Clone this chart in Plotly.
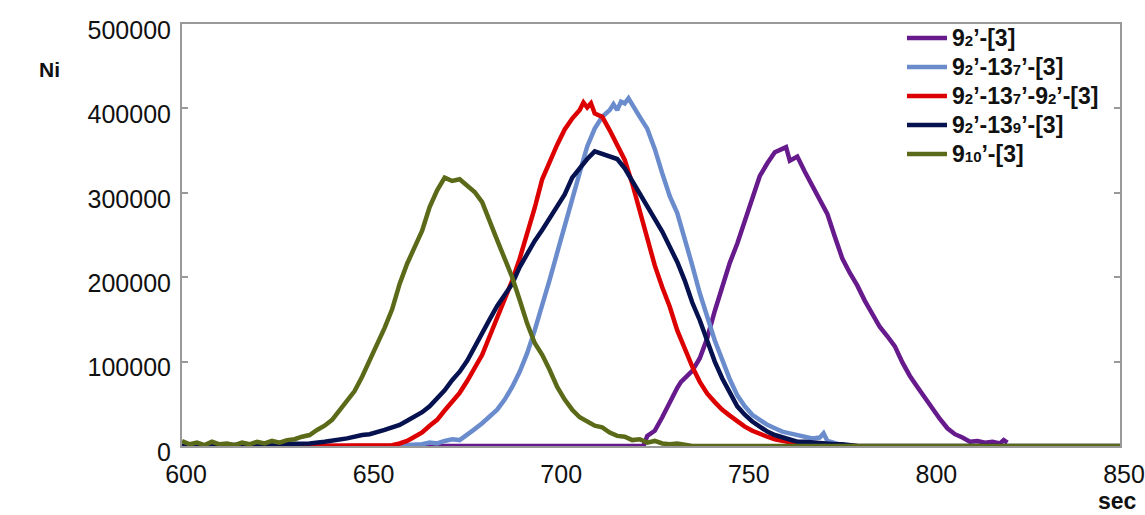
import plotly.graph_objects as go

# ---- data (sec, Ni) ----
t_purple = [600, 650, 700, 723, 724, 725, 726, 728, 730, 732, 733, 734, 736, 738, 740, 742, 744, 746, 748, 750,
            752, 754, 756, 758, 760, 761, 762, 764, 766, 768, 770, 772, 774, 776, 778, 780, 782, 784, 786, 788,
            790, 792, 794, 796, 798, 800, 802, 804, 806, 808, 810, 812, 814, 816, 818, 819, 820]
n_purple = [0, 0, 0, 0, 12000, 15000, 18000, 34000, 52000, 69000, 76000, 80000, 89000, 104000, 128000, 160000,
            190000, 217000, 240000, 268000, 294000, 320000, 335000, 348000, 352000, 354000, 338000, 343000, 325000,
            308000, 290000, 275000, 248000, 222000, 205000, 190000, 172000, 156000, 141000, 130000, 118000, 99000,
            83000, 70000, 57000, 43000, 32000, 21000, 14000, 10000, 5000, 6000, 4000, 5000, 3000, 7000, 4000]

t_lblue = [655, 660, 664, 666, 668, 670, 672, 674, 676, 678, 680, 682, 684, 686, 688, 690, 692, 694, 696, 698,
           700, 702, 704, 706, 708, 710, 712, 714, 715, 716, 717, 718, 719, 720, 722, 724, 726, 728, 730, 732,
           734, 736, 738, 740, 742, 744, 746, 748, 750, 752, 754, 756, 758, 760, 762, 764, 766, 768, 770, 771,
           772, 774, 776, 778]
n_lblue = [0, 1000, 2000, 4000, 3000, 6000, 8000, 7000, 13000, 20000, 27000, 35000, 43000, 55000, 70000, 88000,
           110000, 137000, 165000, 197000, 229000, 262000, 295000, 324000, 355000, 376000, 390000, 398000, 405000,
           398000, 408000, 406000, 412000, 404000, 390000, 376000, 352000, 323000, 296000, 276000, 246000, 214000,
           181000, 152000, 125000, 102000, 79000, 60000, 47000, 37000, 31000, 25000, 21000, 17000, 15000, 13000,
           11000, 9000, 10000, 15000, 6000, 3000, 1000, 0]

t_red = [630, 654, 656, 658, 660, 662, 664, 666, 668, 670, 672, 674, 676, 678, 680, 682, 684, 686, 688, 690,
         692, 694, 696, 698, 700, 702, 704, 706, 707, 708, 709, 710, 712, 714, 716, 718, 720, 722, 724, 726,
         728, 730, 732, 734, 736, 738, 740, 742, 744, 746, 748, 750, 752, 754, 756, 758, 760, 762, 764, 766,
         768, 780]
n_red = [0, 0, 1000, 3000, 6000, 11000, 16000, 24000, 31000, 42000, 52000, 63000, 77000, 92000, 108000, 130000,
         152000, 175000, 196000, 222000, 250000, 282000, 316000, 338000, 357000, 375000, 388000, 398000, 407000,
         401000, 406000, 394000, 390000, 374000, 356000, 339000, 311000, 277000, 247000, 214000, 188000, 165000,
         137000, 114000, 94000, 76000, 62000, 52000, 43000, 36000, 29000, 23000, 18000, 14000, 11000, 8000, 6000,
         4000, 2000, 1000, 0, 0]

t_navy = [600, 630, 634, 638, 640, 644, 648, 650, 654, 658, 660, 662, 664, 666, 668, 670, 672, 674, 676, 678,
          680, 682, 684, 686, 688, 690, 692, 694, 696, 698, 700, 702, 704, 706, 708, 710, 712, 714, 716, 718,
          720, 722, 724, 726, 728, 730, 732, 734, 736, 738, 740, 742, 744, 746, 748, 750, 752, 754, 756, 758,
          760, 762, 764, 766, 768, 770, 772, 774, 776, 778, 780, 850]
n_navy = [0, 2000, 3000, 5000, 6000, 9000, 13000, 14000, 19000, 25000, 30000, 35000, 40000, 47000, 56000, 66000,
          78000, 88000, 101000, 118000, 135000, 150000, 166000, 178000, 192000, 212000, 228000, 243000, 256000,
          270000, 284000, 298000, 318000, 330000, 340000, 349000, 346000, 342000, 340000, 329000, 314000, 300000,
          285000, 270000, 254000, 236000, 218000, 196000, 170000, 149000, 123000, 100000, 80000, 63000, 47000,
          37000, 29000, 23000, 17000, 13000, 10000, 7000, 5000, 5000, 4000, 4000, 3000, 2000, 2000, 1000, 0, 0]

t_olive = [600, 602, 604, 606, 608, 610, 612, 614, 616, 618, 620, 622, 624, 626, 628, 630, 632, 634, 636, 638,
           640, 642, 644, 646, 648, 650, 652, 654, 656, 658, 660, 662, 664, 666, 668, 670, 672, 674, 676, 678,
           680, 682, 684, 686, 688, 690, 692, 694, 696, 698, 700, 702, 704, 706, 708, 710, 712, 714, 716, 718,
           720, 722, 724, 726, 728, 730, 732, 734, 736, 850]
n_olive = [6000, 2000, 4000, 1000, 5000, 2000, 3000, 1000, 4000, 2000, 5000, 3000, 6000, 4000, 7000, 8000, 11000,
           13000, 19000, 24000, 31000, 42000, 52000, 65000, 82000, 101000, 121000, 140000, 162000, 192000, 216000,
           236000, 255000, 283000, 303000, 318000, 314000, 316000, 309000, 301000, 289000, 268000, 244000, 222000,
           200000, 173000, 145000, 122000, 108000, 90000, 70000, 55000, 43000, 34000, 29000, 24000, 22000, 16000,
           12000, 11000, 7000, 8000, 4000, 6000, 3000, 2000, 3000, 1000, 0, 0]


def big(s):
    return '<span style="font-size:23px">' + s + '</span>'


def sub(s):
    return '<span style="font-size:15px">' + s + '</span>'


names = [big("9") + sub("2") + big("’-[3]"),
         big("9") + sub("2") + big("’-13") + sub("7") + big("’-[3]"),
         big("9") + sub("2") + big("’-13") + sub("7") + big("’-9") + sub("2") + big("’-[3]"),
         big("9") + sub("2") + big("’-13") + sub("9") + big("’-[3]"),
         big("9") + sub("10") + big("’-[3]")]
colors = ["#661a8c", "#6b8ccc", "#dd0000", "#06124f", "#5a6a18"]
x_ticks = [600, 650, 700, 750, 800, 850]
y_ticks = [0, 100000, 200000, 300000, 400000, 500000]

series = [(t_purple, n_purple), (t_lblue, n_lblue), (t_red, n_red), (t_navy, n_navy), (t_olive, n_olive)]

fig = go.Figure()
for (t, n), name, c in zip(series, names, colors):
    fig.add_trace(go.Scatter(x=t, y=n, mode="lines", name=name,
                             line=dict(color=c, width=4.5)))

FONT = "Liberation Sans, Arial, sans-serif"
axis_font = dict(family=FONT, size=25, color="#111111")
L, T, W, H = 182, 24, 938, 422
fig.update_layout(
    width=1145, height=515,
    margin=dict(l=L, r=1145 - L - W, t=T, b=515 - T - H, autoexpand=False),
    paper_bgcolor="white", plot_bgcolor="white",
    showlegend=True,
    legend=dict(x=(902 - L) / W, y=1.013, xanchor="left", yanchor="top",
                font=dict(family=FONT, size=20, color="#111111", weight="bold"),
                bgcolor="rgba(0,0,0,0)", tracegroupgap=0, itemwidth=40),
    annotations=[
        dict(text="<b>Ni</b>", x=(49 - L) / W, y=(T + H - 69) / H, xref="paper", yref="paper",
             xanchor="center", yanchor="middle",
             showarrow=False, font=dict(family=FONT, size=21, color="#111111")),
        dict(text="<b>sec</b>", x=(1117 - L) / W, y=(T + H - 501) / H, xref="paper", yref="paper",
             xanchor="center", yanchor="middle",
             showarrow=False, font=dict(family=FONT, size=23, color="#111111")),
    ],
)

fig.update_xaxes(range=[600, 850], tickvals=x_ticks, ticktext=[str(v) for v in x_ticks],
                 showgrid=False, zeroline=False, showline=True, linecolor="#999999", linewidth=2,
                 mirror=True, ticks="", tickfont=axis_font, ticklabelshift=4, ticklabelstandoff=5,
                 automargin=False)
fig.update_yaxes(range=[0, 500000], tickvals=y_ticks, ticktext=[str(v) for v in y_ticks],
                 showgrid=False, zeroline=False, showline=True, linecolor="#999999", linewidth=2,
                 mirror="ticks", ticks="inside", ticklen=6, tickcolor="#999999", tickwidth=2,
                 tickfont=axis_font, ticklabelshift=6, ticklabelstandoff=4, automargin=False)

fig.write_html("out.html", config={"displayModeBar": False},
               post_script="document.body.style.margin='0';")
